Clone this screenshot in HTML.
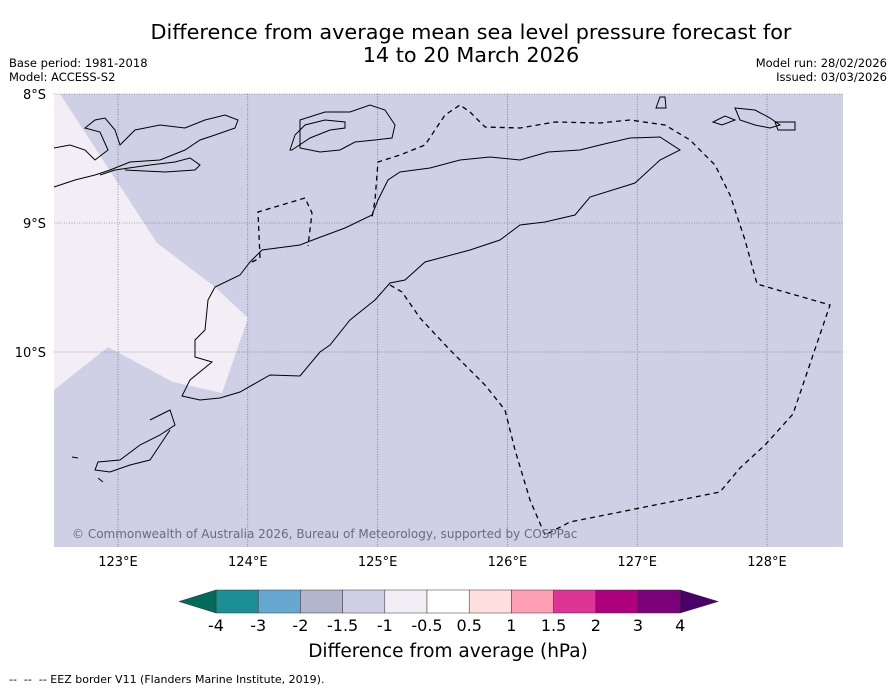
<!DOCTYPE html>
<html><head><meta charset="utf-8"><style>
body{margin:0;background:#fff;width:896px;height:690px;overflow:hidden;font-family:"DejaVu Sans","Liberation Sans",sans-serif}
svg{display:block}
</style></head><body>
<svg id="c" width="896" height="690" viewBox="0 0 896 690">
<text x="471" y="39" font-size="20.8" text-anchor="middle">Difference from average mean sea level pressure forecast for</text>
<text x="471" y="62" font-size="20.8" text-anchor="middle">14 to 20 March 2026</text>
<text x="9" y="67" font-size="11.5">Base period: 1981-2018</text>
<text x="9" y="81" font-size="11.5">Model: ACCESS-S2</text>
<text x="887" y="67" font-size="11.5" text-anchor="end">Model run: 28/02/2026</text>
<text x="887" y="81" font-size="11.5" text-anchor="end">Issued: 03/03/2026</text>
<g>
<rect x="54" y="94" width="789" height="453" fill="#cfd0e6"/>
<polygon points="54,94 60,94 157,243 215,287 248,318 222,393 173,382 108,347 54,390" fill="#f3eef6"/>
<g id="grid" stroke="#555" stroke-width="0.6" stroke-dasharray="1,1.5"></g>
<g fill="none" stroke="#000" stroke-width="1">
<path d="M250,262 L262,250 L300,245 L318,238 L345,228 L372,215 L378,200 L388,180 L400,172 L430,168 L460,160 L490,157 L520,160 L548,152 L580,150 L600,145 L630,138 L660,137 L680,150 L660,160 L635,183 L590,197 L575,215 L545,222 L520,225 L500,240 L470,250 L425,262 L405,280 L390,283 L375,300 L350,320 L330,345 L320,352 L300,376 L270,375 L240,392 L220,398 L200,400 L182,396 L190,380 L212,362 L195,357 L195,340 L205,330 L208,300 L215,287 L240,275 Z"/>
<path d="M54,187 L75,180 L95,175 L110,170 L130,162 L160,160 L185,150 L200,140 L215,135 L235,128 L238,120 L225,115 L205,120 L185,128 L160,125 L135,130 L120,145 L115,130 L105,118 L95,120 L85,128 L100,132 L108,150 L95,160 L85,150 L70,145 L54,148"/>
<path d="M100,175 L115,170 L150,165 L175,162 L190,158 L200,165 L195,170 L165,172 L125,170"/>
<path d="M292,150 L310,138 L330,130 L345,128 L345,122 L325,120 L305,125 L295,135 L290,150 Z"/>
<path d="M300,120 L325,112 L350,112 L370,105 L385,110 L395,125 L392,138 L375,140 L355,142 L340,150 L320,152 L300,148 Z"/>
<path d="M660,97 L665,97 L666,108 L656,108 Z M735,108 L755,110 L770,118 L780,125 L770,128 L755,125 L740,120 Z M713,122 L725,116 L735,120 L722,125 Z M775,122 L795,122 L795,130 L778,130 Z"/>
<path d="M150,420 L170,410 L175,425 L160,435 L140,445 L120,460 L98,462 L95,470 L110,472 L130,465 L150,460 L160,445 L170,430"/>
<path d="M72,457 L78,458 M98,478 L103,482"/>
</g>
<g fill="none" stroke="#000" stroke-width="1.3" stroke-dasharray="5,4">
<path d="M390,285 L402,292 L420,318 L450,350 L485,385 L505,410 L515,450 L530,500 L545,535 L570,522 L720,492 L740,468 L765,445 L793,414 L830,305 L757,284 L745,240 L730,195 L715,165 L690,140 L665,125 L630,120 L600,123 L555,122 L520,128 L485,127 L470,112 L460,105 L445,115 L435,130 L425,145 L400,155 L378,162 L375,200 L372,218"/>
<path d="M252,262 L260,258 L258,212 L305,198 L312,213 L308,246"/>
</g>
<text x="72" y="538" font-size="12" fill="#6a6a80">© Commonwealth of Australia 2026, Bureau of Meteorology, supported by COSPPac</text>
</g>
<g id="axes" font-size="13"></g>
<g id="cbar"></g>
<text x="448" y="657" font-size="18.5" text-anchor="middle">Difference from average (hPa)</text>
<text x="9" y="683" font-size="11" style="white-space:pre">--  --  -- EEZ border V11 (Flanders Marine Institute, 2019).</text>
</svg>
<script>
const lonTicks=[123,124,125,126,127,128];
const latTicks=[8,9,10];
const levelLabels=["-4","-3","-2","-1.5","-1","-0.5","0.5","1","1.5","2","3","4"];
const binColors=["#1c8f96","#66a8cf","#b1b6cd","#cfd0e6","#f3eef6","#ffffff","#ffdfdd","#fc9fb5","#dd3496","#ad017e","#7a0177"];
const underColor="#016c59", overColor="#49006a";
const NS="http://www.w3.org/2000/svg";
function mk(t,a,p){const e=document.createElementNS(NS,t);for(const k in a)e.setAttribute(k,a[k]);p.appendChild(e);return e;}
const xLon=l=>118+(l-123)*129.8, yLat=l=>94+(l-8)*129;
const grid=document.getElementById('grid'), axes=document.getElementById('axes');
lonTicks.forEach(l=>{const x=xLon(l);
 const g=mk('line',{x1:x,x2:x,y1:94,y2:547},grid);
 
 
 const t=mk('text',{x:x,y:566,'text-anchor':'middle'},axes);t.textContent=l+'°E';
 
 });
latTicks.forEach(l=>{const y=yLat(l);
 const g=mk('line',{x1:54,x2:843,y1:y,y2:y},grid);
 
 
 const t=mk('text',{x:46,y:y+5,'text-anchor':'end'},axes);t.textContent=l+'°S';
 
 });
const cb=document.getElementById('cbar');
const x0=216,w=42.2,y0=590,h=23,n=binColors.length;
binColors.forEach((c,i)=>{const r=mk('rect',{x:x0+i*w,y:y0,width:w,height:h,fill:c,stroke:'#333','stroke-width':0.5},cb);
 
 });
const xe=x0+n*w;
const u=mk('polygon',{points:`${x0},${y0} 179,${y0+h/2} ${x0},${y0+h}`,fill:underColor,stroke:'#333','stroke-width':0.5},cb);


const o=mk('polygon',{points:`${xe},${y0} ${xe+38},${y0+h/2} ${xe},${y0+h}`,fill:overColor,stroke:'#333','stroke-width':0.5},cb);


levelLabels.forEach((s,i)=>{const t=mk('text',{x:x0+i*w,y:631,'font-size':16,'text-anchor':'middle'},cb);t.textContent=s;
 
 });
</script>
</body></html>
